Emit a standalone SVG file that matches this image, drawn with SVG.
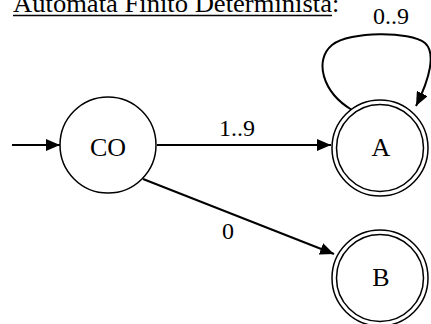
<svg xmlns="http://www.w3.org/2000/svg" width="431" height="324" viewBox="0 0 431 324">
  <style>
    .txt { font-family: "Liberation Serif", "Times New Roman", serif; font-size: 26px; fill: #000; }
    .lbl { font-family: "Liberation Serif", "Times New Roman", serif; font-size: 24px; fill: #000; text-anchor: middle; }
    .state { fill: #fff; stroke: #000; stroke-width: 1.5; }
    .edge { fill: none; stroke: #000; stroke-width: 2; marker-end: url(#arrow); }
  </style>
  <defs>
    <marker id="arrow" markerUnits="userSpaceOnUse" markerWidth="14" markerHeight="12" refX="14" refY="6" orient="auto">
      <path d="M0,0 L14,6 L0,12 Z" fill="#000"/>
    </marker>
  </defs>

  <rect width="431" height="324" fill="#fff"/>

  <!-- heading -->
  <text class="txt" x="13" y="12" textLength="319" lengthAdjust="spacingAndGlyphs">Automata Finito Determinista</text>
  <line x1="13" y1="15.5" x2="332" y2="15.5" stroke="#000" stroke-width="1.5"/>
  <text class="txt" x="332" y="12">:</text>

  <!-- transitions -->
  <g id="connectors">
    <line class="edge" x1="12" y1="145" x2="60" y2="145"/>
    <line class="edge" x1="157" y1="145" x2="331" y2="145"/>
    <line class="edge" x1="143" y1="179" x2="334" y2="254"/>
    <path class="edge" d="M352,110 C322,92 314,60 332,45 C350,31 410,31 425,43 C436,53 430,78 416,106"/>
    <text class="lbl" x="237" y="136">1..9</text>
    <text class="lbl" x="228" y="239">0</text>
    <text class="lbl" x="391" y="24">0..9</text>
  </g>

  <!-- states -->
  <g id="CO">
    <circle class="state" cx="108" cy="145" r="48"/>
    <text class="txt" x="108" y="156" text-anchor="middle">CO</text>
  </g>
  <g id="A">
    <circle class="state" cx="380" cy="148" r="48" stroke-width="2"/>
    <circle class="state" cx="380" cy="148" r="43.5" stroke-width="2"/>
    <text class="txt" x="381" y="156" text-anchor="middle">A</text>
  </g>
  <g id="B">
    <circle class="state" cx="380" cy="278" r="48" stroke-width="2"/>
    <circle class="state" cx="380" cy="278" r="43.5" stroke-width="2"/>
    <text class="txt" x="381" y="286" text-anchor="middle">B</text>
  </g>
</svg>
